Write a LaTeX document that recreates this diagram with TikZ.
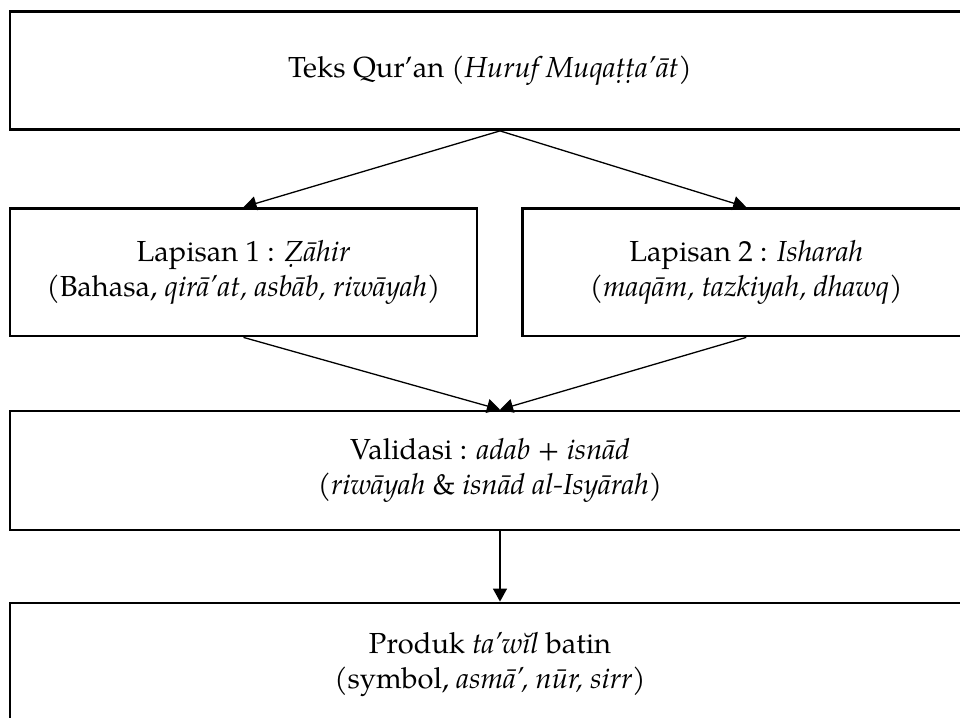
\documentclass[tikz,border=0pt]{standalone}
\usepackage{fontspec}
\setmainfont{texgyrepagella}[Extension=.otf, UprightFont=*-regular, ItalicFont=*-italic, BoldFont=*-bold, BoldItalicFont=*-bolditalic]
\usetikzlibrary{arrows.meta}
\begin{document}
\begin{tikzpicture}[x=1pt,y=-1pt,
  box/.style={draw, line width=2.8pt, rectangle, inner sep=0pt, align=center,
    font=\fontsize{29}{35}\selectfont},
  conn/.style={line width=1.3pt, -{Triangle[length=13pt,width=14pt]}}]
\useasboundingbox (0,0) rectangle (960,717);
\node[box, minimum width=960pt, minimum height=118pt] (qur) at (490,70.5)
  {Teks Qur’an (\textit{Huruf Muqaṭṭa’āt})};
\node[box, minimum width=467pt, minimum height=127.5pt] (l1) at (243.5,272.25)
  {Lapisan 1 : \textit{Ẓāhir}\\(Bahasa, \textit{qirā’at, asbāb, riwāyah})};
\node[box, minimum width=447.5pt, minimum height=127.5pt] (l2) at (746.25,272.25)
  {Lapisan 2 : \textit{Isharah}\\(\textit{maqām, tazkiyah, dhawq})};
\node[box, minimum width=960pt, minimum height=119pt] (val) at (490,470.5)
  {Validasi : \textit{adab} + \textit{isnād}\\(\textit{riwāyah} \& \textit{isnād al-Isyārah})};
\node[box, minimum width=960pt, minimum height=122pt] (prod) at (490,664)
  {Produk \textit{ta’wĭl} batin\\(symbol, \textit{asmā’, nūr, sirr})};
\draw[conn] ([xshift=10pt]qur.south) -- (l1.north);
\draw[conn] ([xshift=10pt]qur.south) -- (l2.north);
\draw[conn] (l1.south) -- ([xshift=10pt]val.north);
\draw[conn] (l2.south) -- ([xshift=10pt]val.north);
\draw[conn] ([xshift=10pt]val.south) -- ([xshift=10pt]prod.north);
\end{tikzpicture}
\end{document}
